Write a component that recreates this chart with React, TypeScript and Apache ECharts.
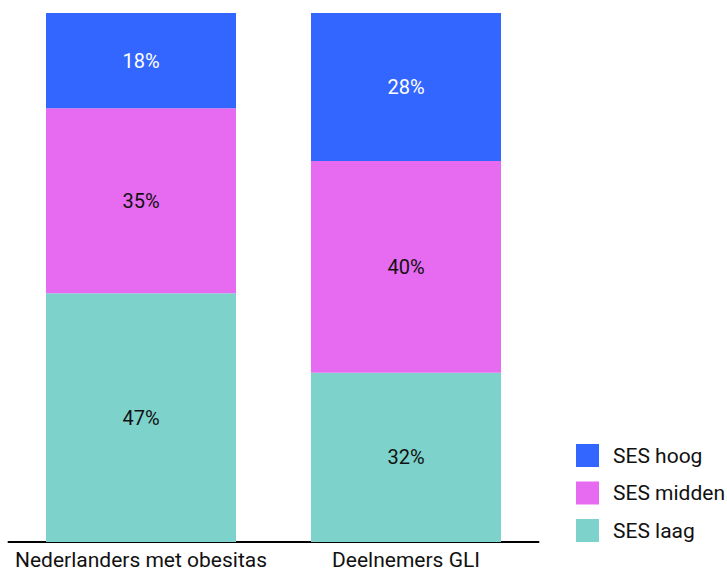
import React, { useEffect, useRef } from "react";
import * as echarts from "echarts";

const categories = ["Nederlanders met obesitas", "Deelnemers GLI"];
const sesLaag = [47, 32];
const sesMidden = [35, 40];
const sesHoog = [18, 28];
const legendOrder = ["SES hoog", "SES midden", "SES laag"];

export default function App() {
  const ref = useRef<HTMLDivElement>(null);
  useEffect(() => {
    const chart = echarts.init(ref.current!, null, { renderer: "svg" });
    const font = "Roboto";
    const mk = (name: string, data: number[], color: string, labelColor: string) => ({
      name,
      type: "bar",
      stack: "total",
      data,
      barWidth: 190,
      itemStyle: { color },
      label: {
        show: true,
        position: "inside",
        formatter: "{c}%",
        color: labelColor,
        fontFamily: font,
        fontSize: 20,
      },
    });
    chart.setOption({
      animation: false,
      textStyle: { fontFamily: font },
      grid: { left: 8.5, right: 727 - 538.5, top: 13, bottom: 570 - 542, containLabel: false },
      legend: {
        data: legendOrder,
        orient: "vertical",
        left: 571,
        top: 439,
        itemWidth: 23,
        itemHeight: 23,
        itemGap: 14.5,
        icon: "rect",
        textStyle: { fontFamily: font, fontSize: 21, color: "#111", padding: [0, 0, 0, 9] },
      },
      xAxis: {
        type: "category",
        data: categories,
        axisLine: { show: true, lineStyle: { color: "#000", width: 2 } },
        axisTick: { show: false },
        axisLabel: { color: "#111", fontFamily: font, fontSize: 21, margin: 7, interval: 0 },
      },
      yAxis: { type: "value", min: 0, max: 100, show: false, splitLine: { show: false } },
      series: [
        mk("SES laag", sesLaag, "#7DD3CB", "#111"),
        mk("SES midden", sesMidden, "#E76BF0", "#111"),
        mk("SES hoog", sesHoog, "#3366FF", "#fff"),
      ],
    });
    return () => chart.dispose();
  }, []);
  return (
    <div
      ref={ref}
      style={{ position: "absolute", left: 0, top: 0, width: 727, height: 570 }}
    />
  );
}
